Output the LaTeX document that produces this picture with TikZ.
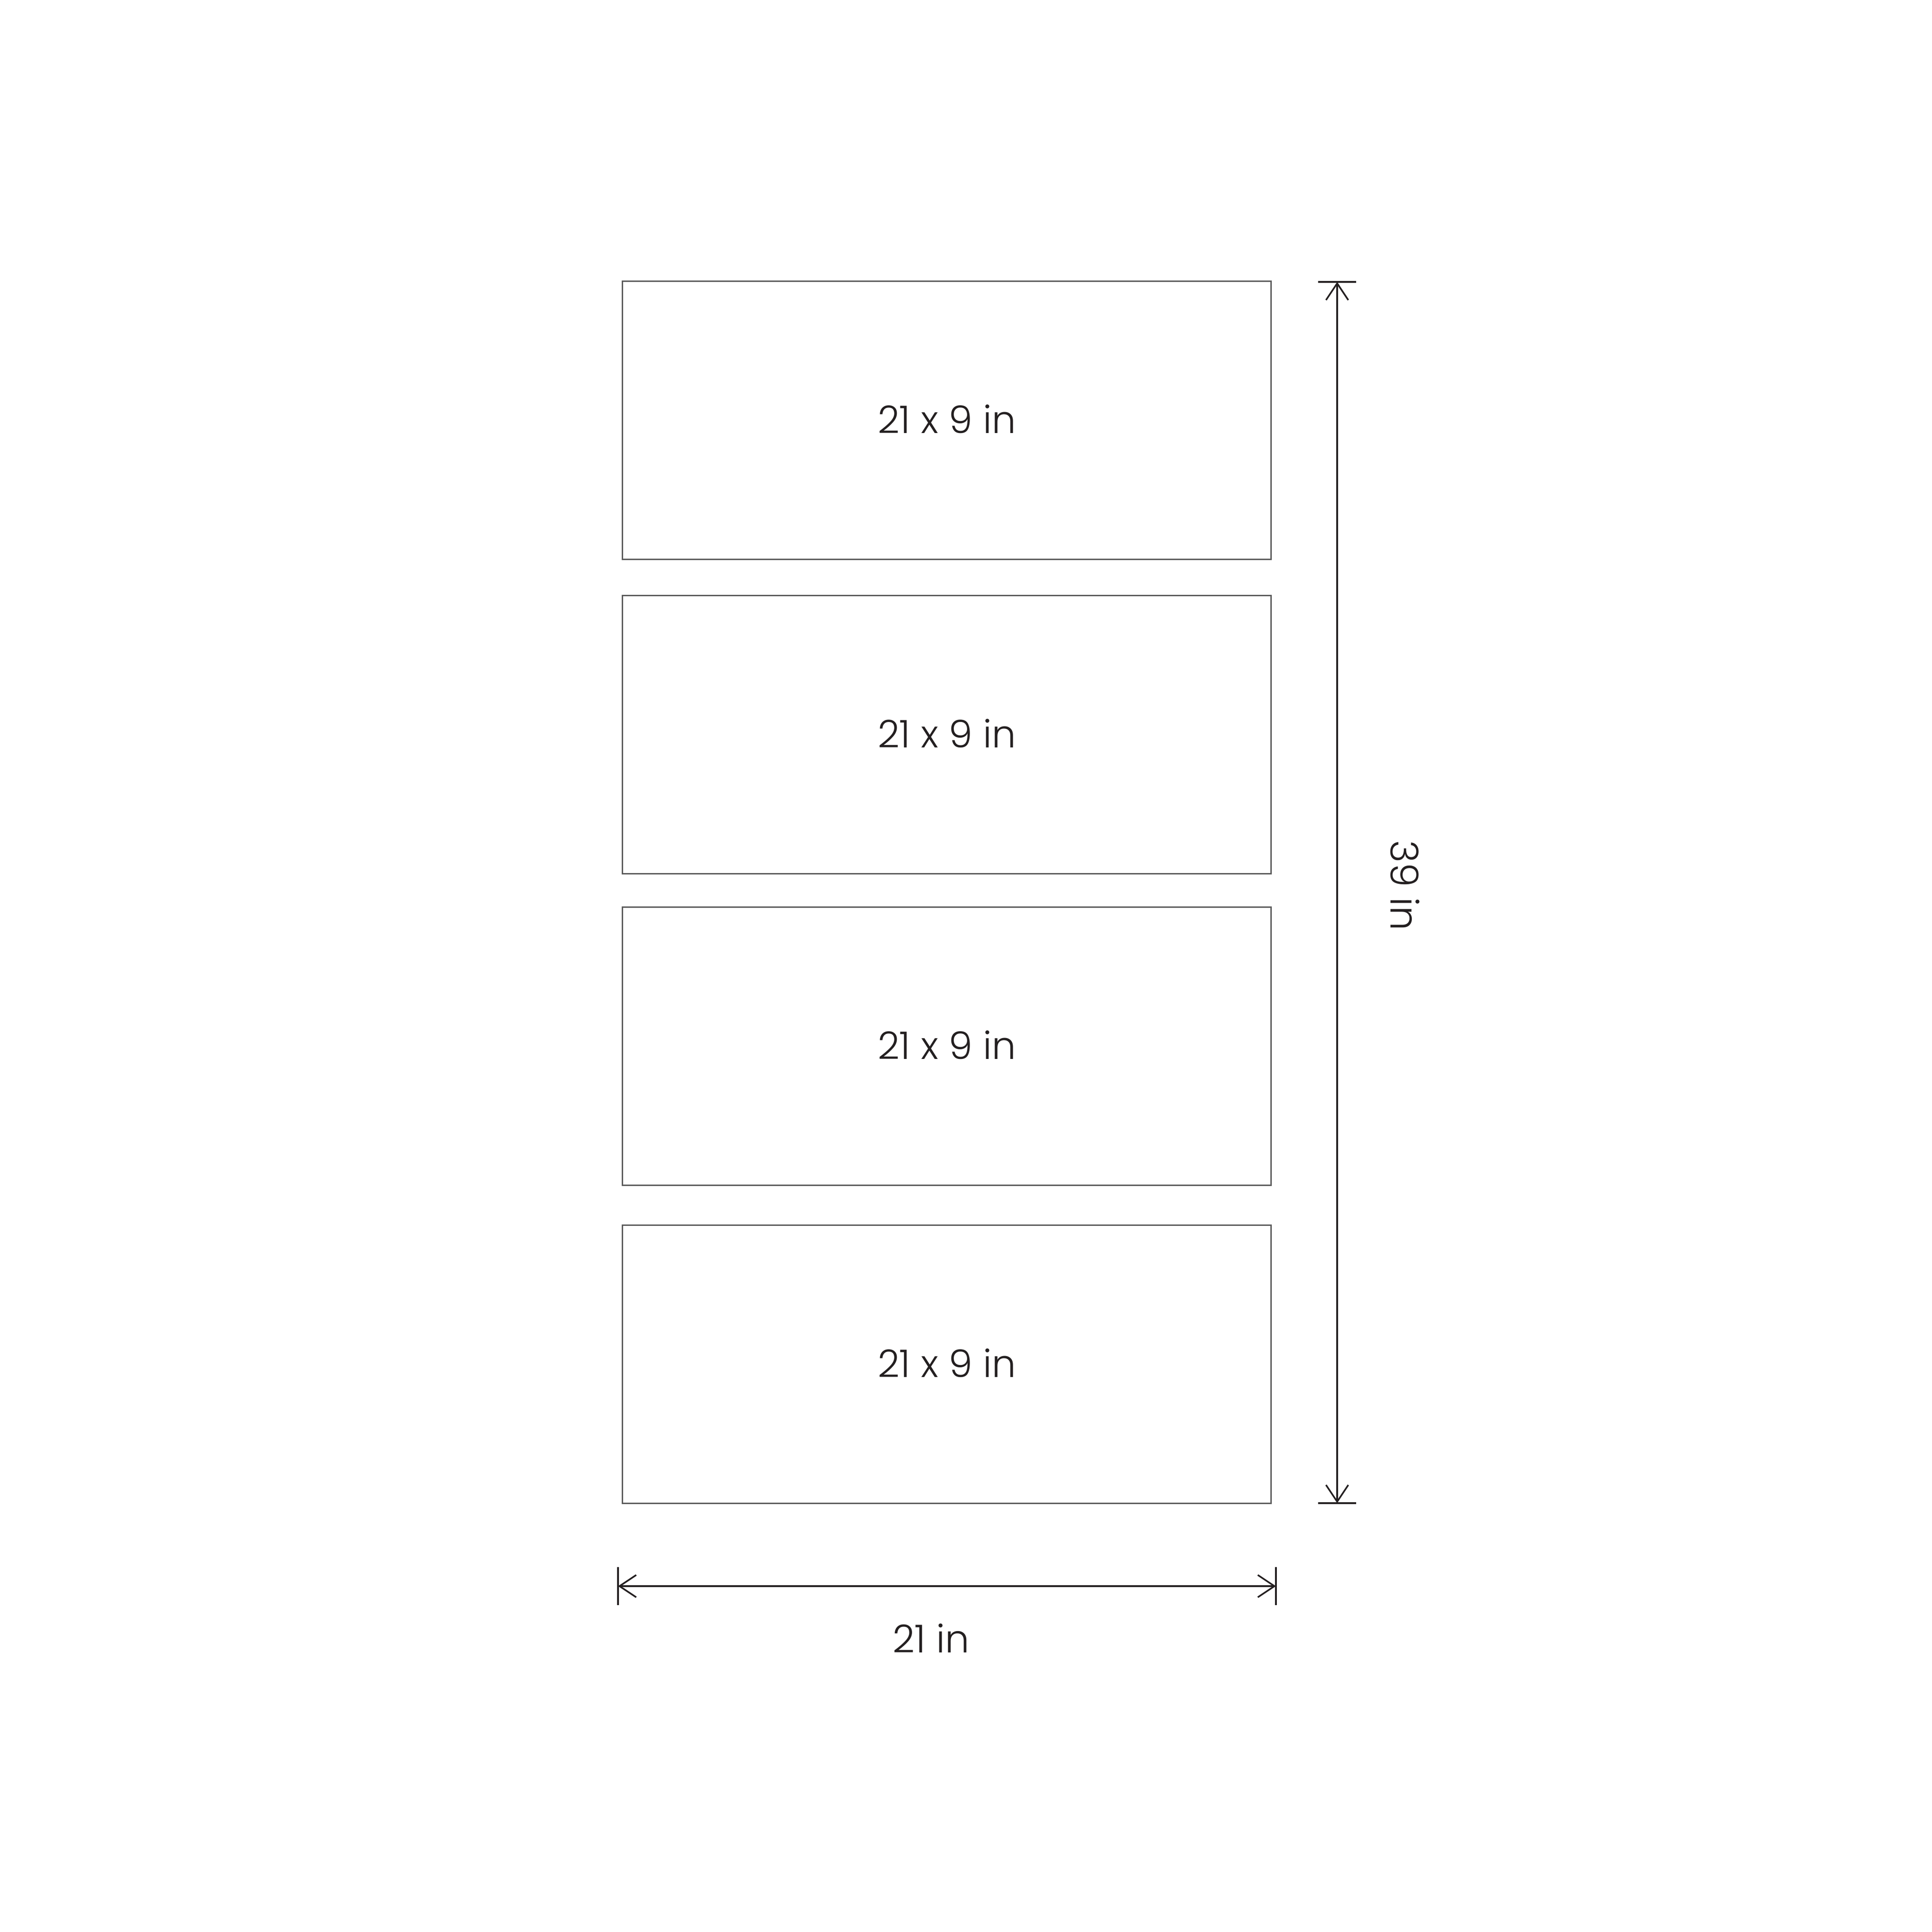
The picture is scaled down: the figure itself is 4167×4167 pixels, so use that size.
\documentclass[tikz,border=0pt]{standalone}
\usepackage{fontspec}
\setmainfont{Poppins}[UprightFont={* Light}]
\usetikzlibrary{arrows.meta}
\definecolor{inkblack}{HTML}{231F20}
\definecolor{boxgray}{HTML}{5A5A5A}
\begin{document}
\begin{tikzpicture}[x=0.1pt,y=-0.1pt,
  panel/.style={draw=boxgray, line width=0.3pt, minimum width=140pt, minimum height=60pt,
    inner sep=0pt, text=inkblack, font=\fontsize{8.2}{10}\selectfont},
  dimline/.style={draw=inkblack, line width=0.35pt},
  dimtips/.style={{Straight Barb[length=3.6pt,width=4.8pt]}-{Straight Barb[length=3.6pt,width=4.8pt]}},
  dimlabel/.style={text=inkblack, inner sep=0pt, font=\fontsize{8.3}{10}\selectfont}]
\useasboundingbox (0,0) rectangle (4167,4167);
\node[panel] (b1) at (2042,906) {\raisebox{0.5pt}{21 x 9 in}};
\node[panel] (b2) at (2042,1584) {\raisebox{0.5pt}{21 x 9 in}};
\node[panel] (b3) at (2042,2256) {\raisebox{0.5pt}{21 x 9 in}};
\node[panel] (b4) at (2042,2942) {\raisebox{0.5pt}{21 x 9 in}};
% vertical dimension
\coordinate (vt) at (2884,608);
\coordinate (vb) at (2884,3242);
\draw[dimline] ([xshift=-4.1pt]vt) -- ([xshift=4.1pt]vt);
\draw[dimline] ([xshift=-4.1pt]vb) -- ([xshift=4.1pt]vb);
\draw[dimline,dimtips] (vt) -- (vb);
\node[dimlabel, rotate=-90] (l39) at (3030,1910) {39 in};
% horizontal dimension
\coordinate (hl) at (1333,3421);
\coordinate (hr) at (2752,3421);
\draw[dimline] ([yshift=4.1pt]hl) -- ([yshift=-4.1pt]hl);
\draw[dimline] ([yshift=4.1pt]hr) -- ([yshift=-4.1pt]hr);
\draw[dimline,dimtips] (hl) -- (hr);
\node[dimlabel] (l21) at (2008,3533) {21 in};
\end{tikzpicture}
\end{document}
